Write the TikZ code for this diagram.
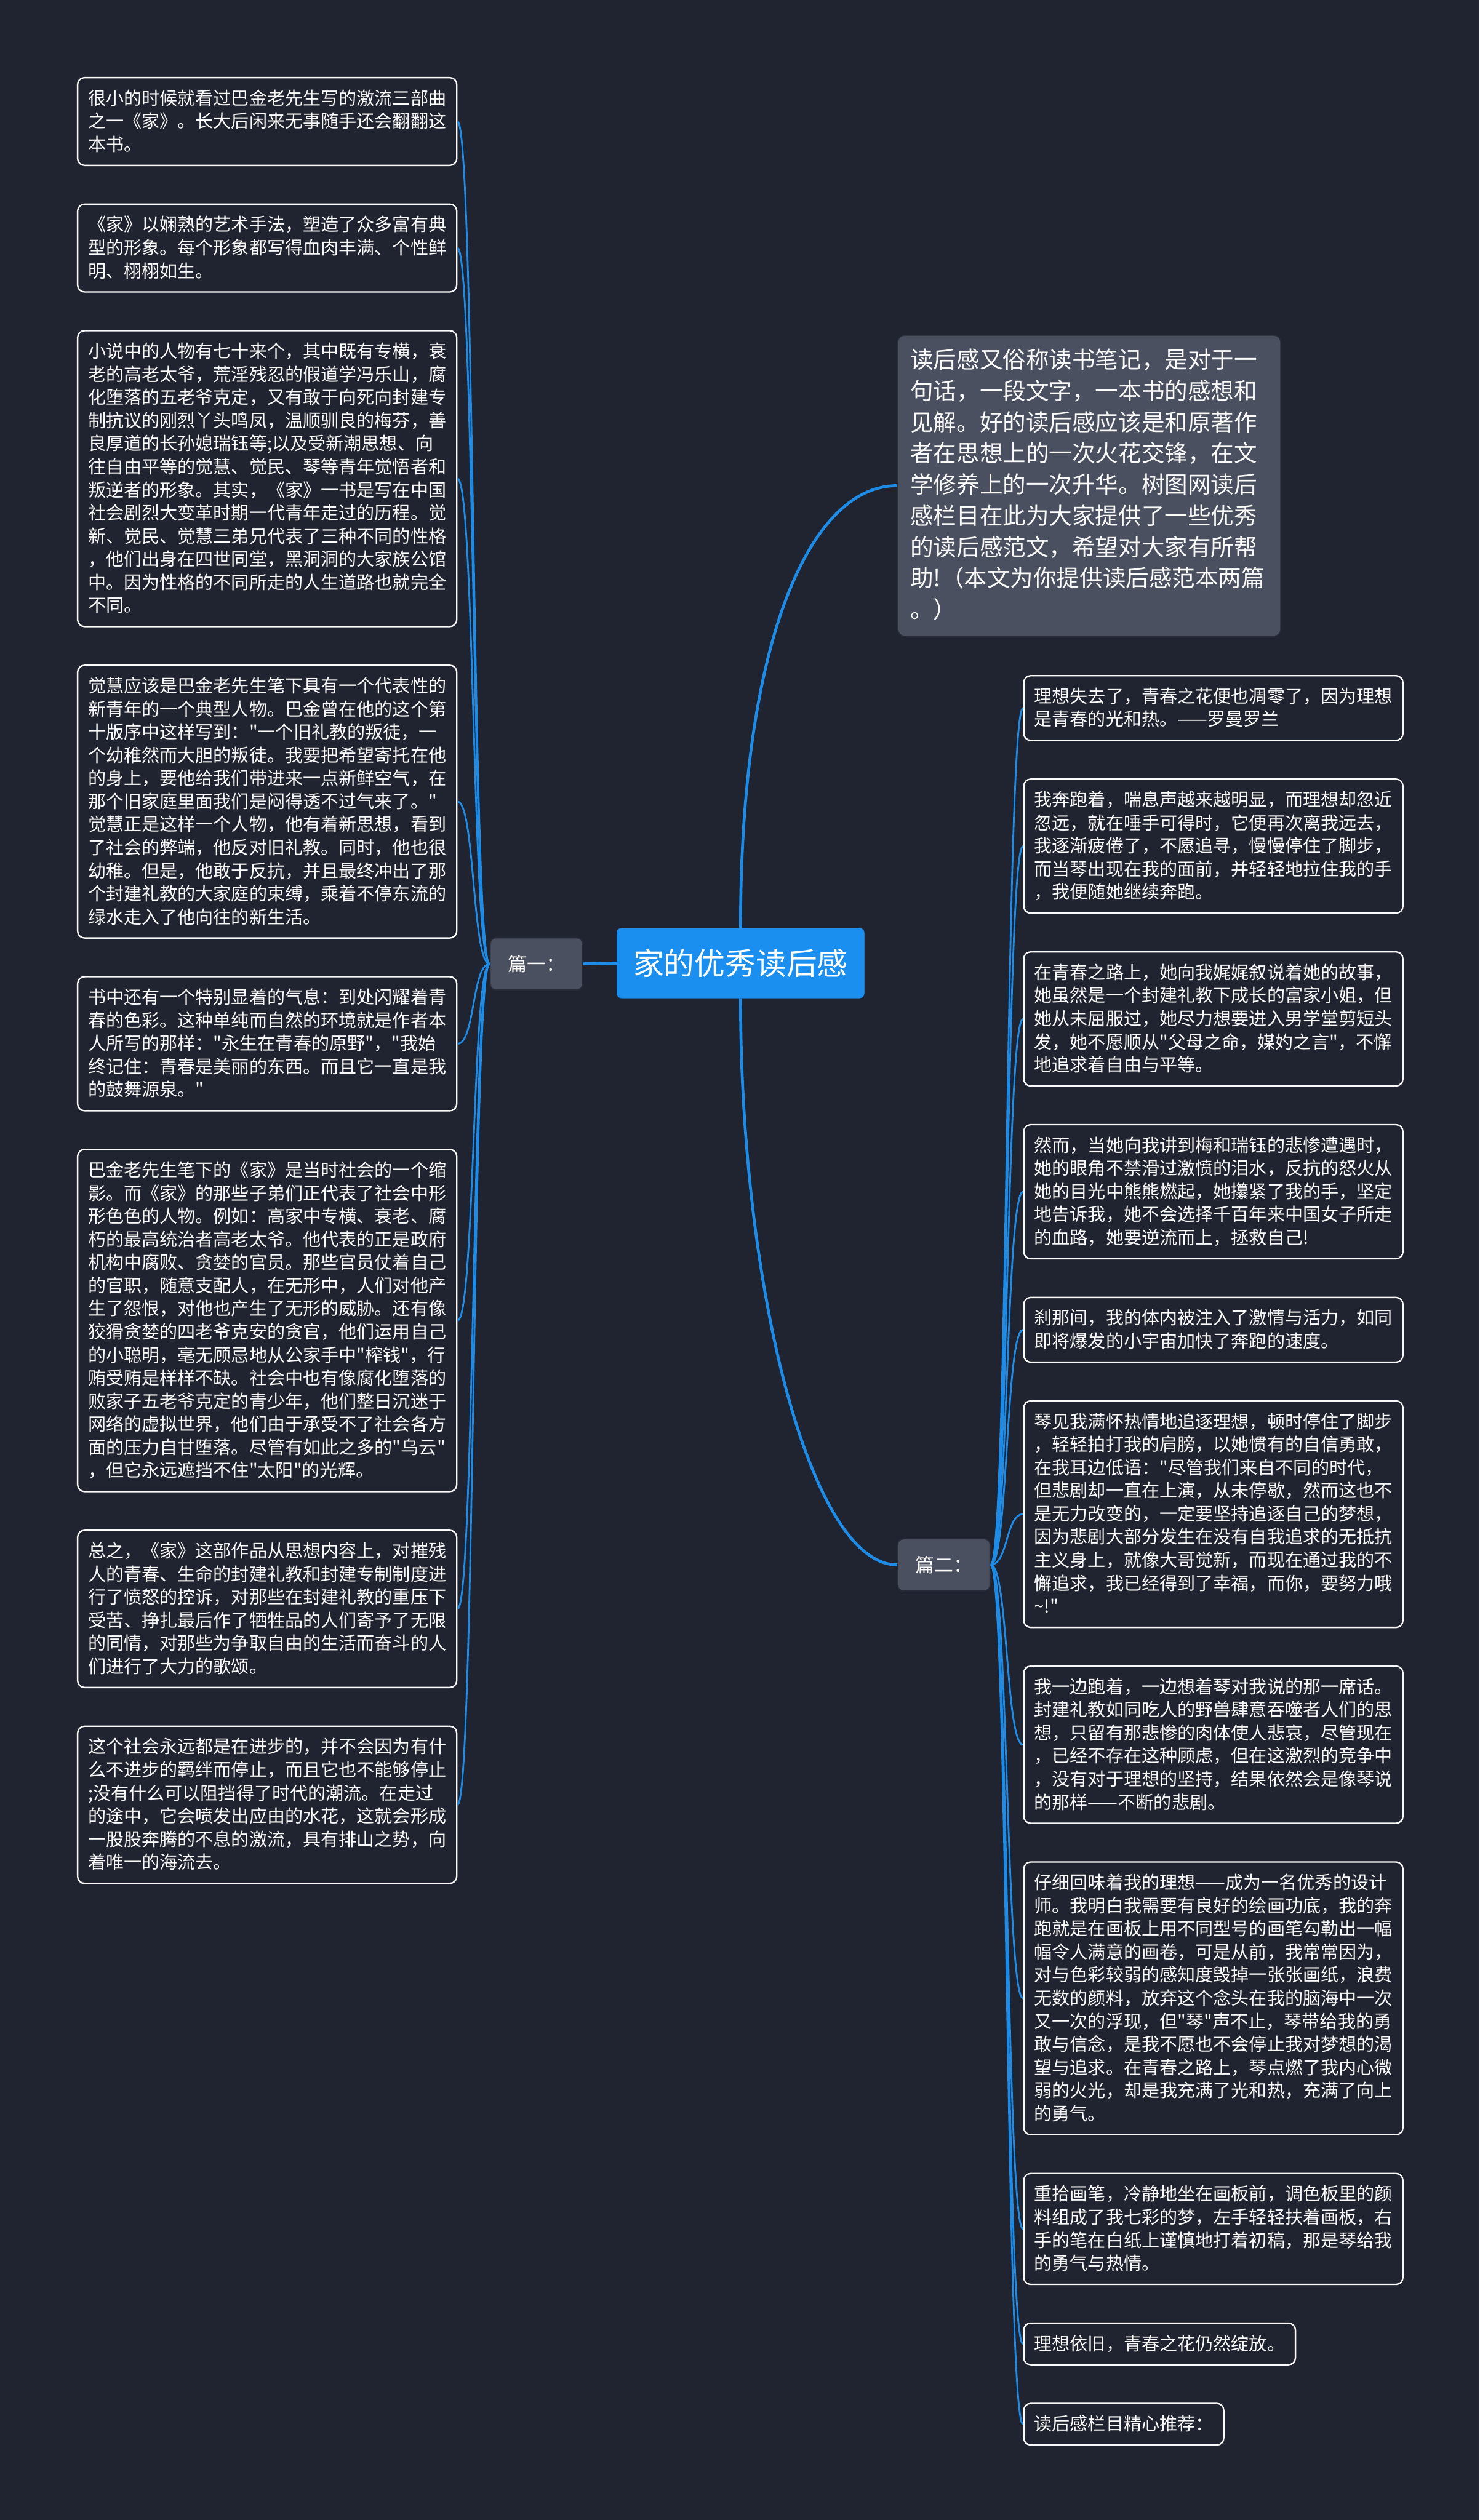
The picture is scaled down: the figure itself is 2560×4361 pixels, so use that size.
\documentclass[tikz,border=0pt]{standalone}
\usepackage{fontspec}
\setmainfont{Noto Sans CJK SC}
\newfontfamily\cjk{Noto Sans CJK SC}
\definecolor{bgc}{RGB}{32,36,48}
\definecolor{lineblue}{RGB}{30,140,230}
\definecolor{rootblue}{RGB}{26,143,240}
\definecolor{greynode}{RGB}{74,80,95}
\definecolor{greyborder}{RGB}{40,44,56}
\definecolor{txt}{RGB}{250,250,250}
\newcommand\sst{\vrule height 31pt depth 9pt width 0pt}
\newcommand\ist{\vrule height 40pt depth 14pt width 0pt}
\setlength{\parindent}{0pt}
\begin{document}
\begin{tikzpicture}[x=1pt,y=-1pt,
  base/.style={draw=txt, line width=2.5pt, rounded corners=12pt, fill=bgc, text=txt,
    inner xsep=18pt, inner ysep=16pt, font=\cjk\fontsize{31}{40}\selectfont, anchor=north west},
  leaf/.style={base, align=left, text width=620pt},
  shortleaf/.style={base},
  introbox/.style={fill=greynode, draw=greyborder, line width=2pt, rounded corners=12pt, text=txt,
    align=left, text width=619pt, inner xsep=22pt, inner ysep=17.5pt,
    font=\cjk\fontsize{40}{54}\selectfont, anchor=north west},
  rootbox/.style={fill=rootblue, draw=rootblue, rounded corners=8pt, minimum width=428pt,
    minimum height=121pt, inner sep=0pt, text=white, font=\cjk\fontsize{53}{60}\selectfont, anchor=north west},
  partbox/.style={fill=greynode, draw=greyborder, line width=2pt, rounded corners=10pt,
    minimum width=160pt, minimum height=90pt, inner sep=0pt, text=txt,
    font=\cjk\fontsize{33}{40}\selectfont, anchor=north west},
  mainlink/.style={draw=lineblue, line width=5pt},
  leaflink/.style={draw=lineblue, line width=3pt}
]
\fill[bgc] (0,0) rectangle (2560,4361);
\useasboundingbox (0,0) rectangle (2560,4361);

% central nodes
\node[rootbox] (root) at (1067,1606) {家的优秀读后感};
\node[partbox] (p1) at (847,1622) {篇一：};
\node[partbox] (p2) at (1552,2662) {篇二：};
\node[introbox] (intro) at (1552,579) {\ist 读后感又俗称读书笔记，是对于一\\句话，一段文字，一本书的感想和\\见解。好的读后感应该是和原著作\\者在思想上的一次火花交锋，在文\\学修养上的一次升华。树图网读后\\感栏目在此为大家提供了一些优秀\\的读后感范文，希望对大家有所帮\\助!（本文为你提供读后感范本两篇\\。）\ist};

% left leaves
\node[leaf] (L1) at (133,133) {\sst 很小的时候就看过巴金老先生写的激流三部曲\\之一《家》。长大后闲来无事随手还会翻翻这\\本书。\sst};
\node[leaf] (L2) at (133,352) {\sst 《家》以娴熟的艺术手法，塑造了众多富有典\\型的形象。每个形象都写得血肉丰满、个性鲜\\明、栩栩如生。\sst};
\node[leaf] (L3) at (133,571) {\sst 小说中的人物有七十来个，其中既有专横，衰\\老的高老太爷，荒淫残忍的假道学冯乐山，腐\\化堕落的五老爷克定，又有敢于向死向封建专\\制抗议的刚烈丫头鸣凤，温顺驯良的梅芬，善\\良厚道的长孙媳瑞钰等;以及受新潮思想、向\\往自由平等的觉慧、觉民、琴等青年觉悟者和\\叛逆者的形象。其实，《家》一书是写在中国\\社会剧烈大变革时期一代青年走过的历程。觉\\新、觉民、觉慧三弟兄代表了三种不同的性格\\，他们出身在四世同堂，黑洞洞的大家族公馆\\中。因为性格的不同所走的人生道路也就完全\\不同。\sst};
\node[leaf] (L4) at (133,1150) {\sst 觉慧应该是巴金老先生笔下具有一个代表性的\\新青年的一个典型人物。巴金曾在他的这个第\\十版序中这样写到："一个旧礼教的叛徒，一\\个幼稚然而大胆的叛徒。我要把希望寄托在他\\的身上，要他给我们带进来一点新鲜空气，在\\那个旧家庭里面我们是闷得透不过气来了。"\\觉慧正是这样一个人物，他有着新思想，看到\\了社会的弊端，他反对旧礼教。同时，他也很\\幼稚。但是，他敢于反抗，并且最终冲出了那\\个封建礼教的大家庭的束缚，乘着不停东流的\\绿水走入了他向往的新生活。\sst};
\node[leaf] (L5) at (133,1689) {\sst 书中还有一个特别显着的气息：到处闪耀着青\\春的色彩。这种单纯而自然的环境就是作者本\\人所写的那样："永生在青春的原野"，"我始\\终记住：青春是美丽的东西。而且它一直是我\\的鼓舞源泉。"\sst};
\node[leaf] (L6) at (133,1988) {\sst 巴金老先生笔下的《家》是当时社会的一个缩\\影。而《家》的那些子弟们正代表了社会中形\\形色色的人物。例如：高家中专横、衰老、腐\\朽的最高统治者高老太爷。他代表的正是政府\\机构中腐败、贪婪的官员。那些官员仗着自己\\的官职，随意支配人，在无形中，人们对他产\\生了怨恨，对他也产生了无形的威胁。还有像\\狡猾贪婪的四老爷克安的贪官，他们运用自己\\的小聪明，毫无顾忌地从公家手中"榨钱"，行\\贿受贿是样样不缺。社会中也有像腐化堕落的\\败家子五老爷克定的青少年，他们整日沉迷于\\网络的虚拟世界，他们由于承受不了社会各方\\面的压力自甘堕落。尽管有如此之多的"乌云"\\，但它永远遮挡不住"太阳"的光辉。\sst};
\node[leaf] (L7) at (133,2647) {\sst 总之，《家》这部作品从思想内容上，对摧残\\人的青春、生命的封建礼教和封建专制制度进\\行了愤怒的控诉，对那些在封建礼教的重压下\\受苦、挣扎最后作了牺牲品的人们寄予了无限\\的同情，对那些为争取自由的生活而奋斗的人\\们进行了大力的歌颂。\sst};
\node[leaf] (L8) at (133,2986) {\sst 这个社会永远都是在进步的，并不会因为有什\\么不进步的羁绊而停止，而且它也不能够停止\\;没有什么可以阻挡得了时代的潮流。在走过\\的途中，它会喷发出应由的水花，这就会形成\\一股股奔腾的不息的激流，具有排山之势，向\\着唯一的海流去。\sst};

% right leaves
\node[leaf] (R1) at (1770,1168) {\sst 理想失去了，青春之花便也凋零了，因为理想\\是青春的光和热。——罗曼罗兰\sst};
\node[leaf] (R2) at (1770,1347) {\sst 我奔跑着，喘息声越来越明显，而理想却忽近\\忽远，就在唾手可得时，它便再次离我远去，\\我逐渐疲倦了，不愿追寻，慢慢停住了脚步，\\而当琴出现在我的面前，并轻轻地拉住我的手\\，我便随她继续奔跑。\sst};
\node[leaf] (R3) at (1770,1646) {\sst 在青春之路上，她向我娓娓叙说着她的故事，\\她虽然是一个封建礼教下成长的富家小姐，但\\她从未屈服过，她尽力想要进入男学堂剪短头\\发，她不愿顺从"父母之命，媒妁之言"，不懈\\地追求着自由与平等。\sst};
\node[leaf] (R4) at (1770,1945) {\sst 然而，当她向我讲到梅和瑞钰的悲惨遭遇时，\\她的眼角不禁滑过激愤的泪水，反抗的怒火从\\她的目光中熊熊燃起，她攥紧了我的手，坚定\\地告诉我，她不会选择千百年来中国女子所走\\的血路，她要逆流而上，拯救自己!\sst};
\node[leaf] (R5) at (1770,2244) {\sst 刹那间，我的体内被注入了激情与活力，如同\\即将爆发的小宇宙加快了奔跑的速度。\sst};
\node[leaf] (R6) at (1770,2423) {\sst 琴见我满怀热情地追逐理想，顿时停住了脚步\\，轻轻拍打我的肩膀，以她惯有的自信勇敢，\\在我耳边低语："尽管我们来自不同的时代，\\但悲剧却一直在上演，从未停歇，然而这也不\\是无力改变的，一定要坚持追逐自己的梦想，\\因为悲剧大部分发生在没有自我追求的无抵抗\\主义身上，就像大哥觉新，而现在通过我的不\\懈追求，我已经得到了幸福，而你，要努力哦\\\textasciitilde!"\sst};
\node[leaf] (R7) at (1770,2882) {\sst 我一边跑着，一边想着琴对我说的那一席话。\\封建礼教如同吃人的野兽肆意吞噬者人们的思\\想，只留有那悲惨的肉体使人悲哀，尽管现在\\，已经不存在这种顾虑，但在这激烈的竞争中\\，没有对于理想的坚持，结果依然会是像琴说\\的那样——不断的悲剧。\sst};
\node[leaf] (R8) at (1770,3221) {\sst 仔细回味着我的理想——成为一名优秀的设计\\师。我明白我需要有良好的绘画功底，我的奔\\跑就是在画板上用不同型号的画笔勾勒出一幅\\幅令人满意的画卷，可是从前，我常常因为，\\对与色彩较弱的感知度毁掉一张张画纸，浪费\\无数的颜料，放弃这个念头在我的脑海中一次\\又一次的浮现，但"琴"声不止，琴带给我的勇\\敢与信念，是我不愿也不会停止我对梦想的渴\\望与追求。在青春之路上，琴点燃了我内心微\\弱的火光，却是我充满了光和热，充满了向上\\的勇气。\sst};
\node[leaf] (R9) at (1770,3760) {\sst 重拾画笔，冷静地坐在画板前，调色板里的颜\\料组成了我七彩的梦，左手轻轻扶着画板，右\\手的笔在白纸上谨慎地打着初稿，那是琴给我\\的勇气与热情。\sst};
\node[shortleaf] (R10) at (1770,4019) {\sst 理想依旧，青春之花仍然绽放。};
\node[shortleaf] (R11) at (1770,4158) {\sst 读后感栏目精心推荐：};

% connectors
\draw[mainlink] (root.west) -- (p1.east);
\draw[mainlink] (root.north) .. controls +(0,-500) and +(-150,0) .. (intro.west);
\draw[mainlink] (root.south) .. controls +(0,500) and +(-150,0) .. (p2.west);
\foreach \n in {L1,L2,L3,L4,L5,L6,L7,L8}
  \draw[leaflink] (p1.west) .. controls +(-30,0) and +(30,0) .. (\n.east);
\foreach \n in {R1,R2,R3,R4,R5,R6,R7,R8,R9,R10,R11}
  \draw[leaflink] (p2.east) .. controls +(30,0) and +(-30,0) .. (\n.west);
\end{tikzpicture}
\end{document}
